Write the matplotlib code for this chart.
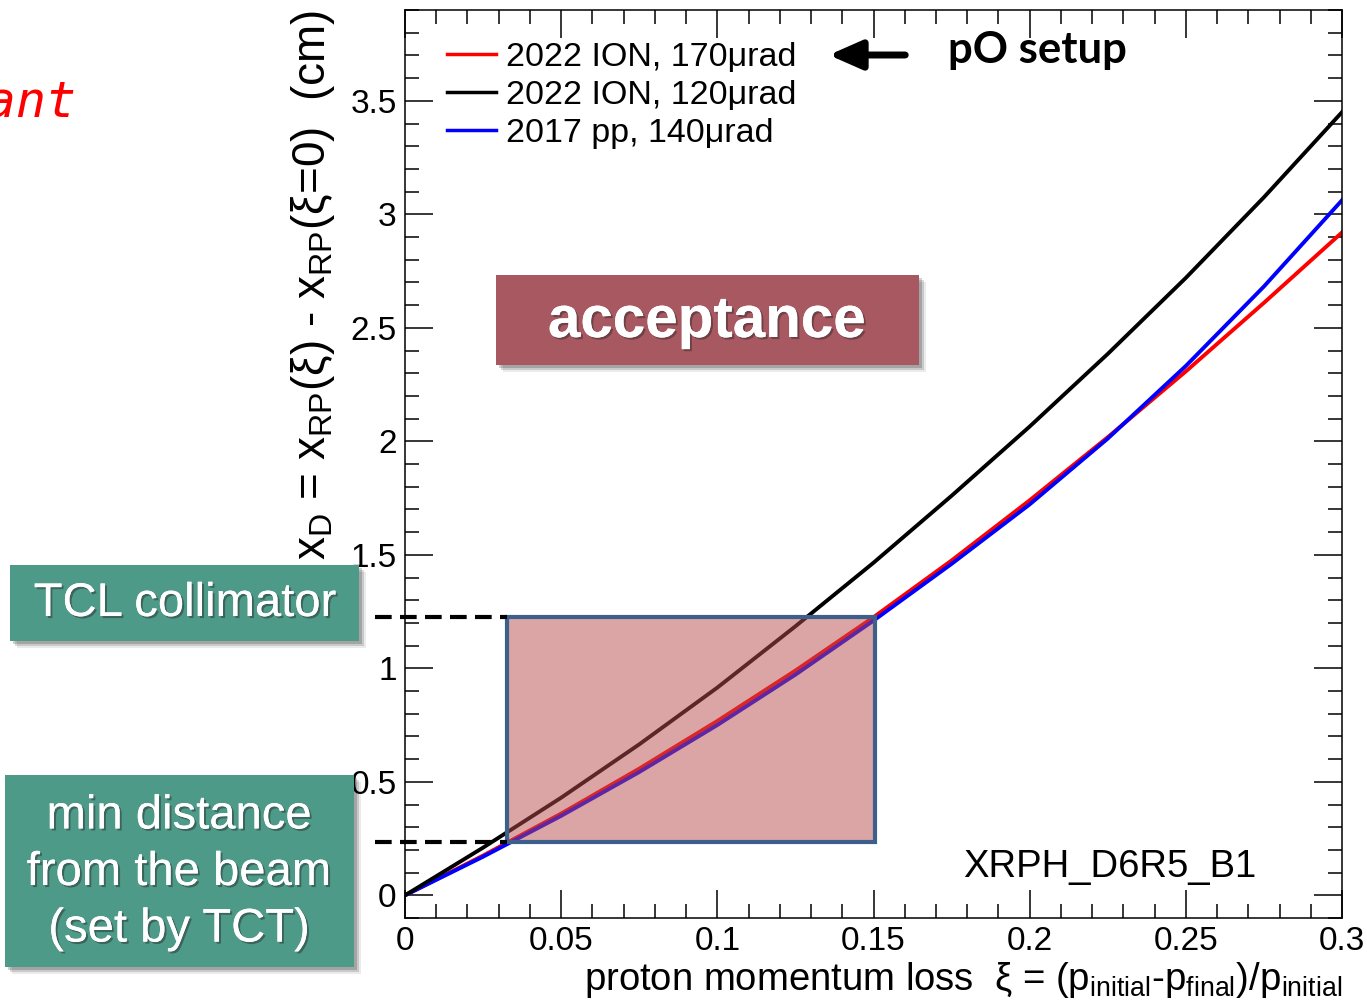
import matplotlib
matplotlib.use("Agg")
import matplotlib.pyplot as plt
import matplotlib.patheffects as pe
from matplotlib.patches import Rectangle, FancyArrowPatch
from matplotlib.ticker import MultipleLocator, FuncFormatter

plt.rcParams['font.family'] = ['Liberation Sans', 'DejaVu Sans']
plt.rcParams['mathtext.fontset'] = 'custom'
plt.rcParams['mathtext.rm'] = 'Liberation Sans'
plt.rcParams['mathtext.it'] = 'Liberation Sans:italic'

# proton momentum loss xi and horizontal displacement x_D (cm) at XRPH_D6R5_B1
xi = [0.0, 0.025, 0.05, 0.075, 0.1, 0.125, 0.15, 0.175, 0.2, 0.225, 0.25, 0.275, 0.3]
xd_ion170 = [0.0, 0.175, 0.36, 0.558, 0.768, 0.99, 1.225, 1.475, 1.74, 2.018, 2.308, 2.61, 2.92]
xd_ion120 = [0.0, 0.21, 0.43, 0.665, 0.915, 1.185, 1.465, 1.76, 2.065, 2.385, 2.72, 3.075, 3.45]
xd_pp140 = [0.0, 0.17, 0.35, 0.543, 0.75, 0.972, 1.21, 1.46, 1.722, 2.012, 2.332, 2.682, 3.062]

labels = ['2022 ION, 170μrad', '2022 ION, 120μrad', '2017 pp, 140μrad']

# acceptance window: min distance (TCT) and TCL collimator limits
xi_lo, xi_hi = 0.0327, 0.1505
xd_lo, xd_hi = 0.233, 1.228

W, H = 1367, 1008


def fx(px):
    return px / W


def fy(py):
    return 1 - py / H


fig = plt.figure(figsize=(W / 100, H / 100), dpi=100)
ax = fig.add_axes([fx(405), fy(918), (1342 - 405) / W, (918 - 10) / H])

l_red, = ax.plot(xi, xd_ion170, color='#ff0000', lw=2.8, zorder=2)
l_blue, = ax.plot(xi, xd_pp140, color='#0000ff', lw=2.8, zorder=2.1)
l_black, = ax.plot(xi, xd_ion120, color='black', lw=2.8, zorder=2.2)

ax.set_xlim(0, 0.3)
ax.set_ylim(-0.1, 3.9)
ax.xaxis.set_major_locator(MultipleLocator(0.05))
ax.xaxis.set_minor_locator(MultipleLocator(0.01))
ax.yaxis.set_major_locator(MultipleLocator(0.5))
ax.yaxis.set_minor_locator(MultipleLocator(0.1))
fmt = FuncFormatter(lambda v, p: '%g' % round(v, 3))
ax.xaxis.set_major_formatter(fmt)
ax.yaxis.set_major_formatter(fmt)
ax.tick_params(which='both', direction='in', top=True, right=True, width=1.1, labelsize=24)
ax.tick_params(which='major', length=20)
ax.tick_params(which='minor', length=10)
ax.tick_params(axis='x', pad=6)
ax.tick_params(axis='y', pad=6)
for s in ax.spines.values():
    s.set_linewidth(1.1)

leg = ax.legend([l_red, l_black, l_blue], labels, loc='upper left',
                bbox_to_anchor=((447 - 405) / 937, (918 - 42) / 908), frameon=False,
                fontsize=24.5, handlelength=1.45, handletextpad=0.28,
                labelspacing=0.2, borderpad=0, borderaxespad=0)
for h in leg.legend_handles:
    h.set_linewidth(2.5)

ax.text(-0.098, 1.0, r'x$_\mathregular{D}$ = x$_\mathregular{RP}$(ξ) - x$_\mathregular{RP}$(ξ=0)  (cm)',
        transform=ax.transAxes, rotation=90, ha='center', va='top', fontsize=33)
ax.text(1.0, -0.079, r'proton momentum loss  ξ = (p$_\mathregular{initial}$-p$_\mathregular{final}$)/p$_\mathregular{initial}$',
        transform=ax.transAxes, ha='right', va='baseline', fontsize=27.5)
ax.text(0.5955, 0.045, 'XRPH_D6R5_B1', transform=ax.transAxes,
        ha='left', va='baseline', fontsize=27.5)

# acceptance window box and dashed limits
ax.add_patch(Rectangle((xi_lo, xd_lo), xi_hi - xi_lo, xd_hi - xd_lo,
                       facecolor=(0.72, 0.30, 0.30, 0.5), edgecolor='#3c5f8c',
                       lw=3, zorder=3))
for lvl in (xd_lo, xd_hi):
    ax.plot([-0.0096, xi_lo], [lvl, lvl], color='black', lw=3,
            ls=(0, (4, 2)), clip_on=False, zorder=3)

txt_shadow = [pe.withSimplePatchShadow(offset=(1.5, -1.5), shadow_rgbFace='0.15', alpha=0.45),
              pe.Normal()]


def slide_box(x0, y0, x1, y1, color):
    # soft drop shadow under the box
    for off, a in ((3, 0.18), (5, 0.14), (7, 0.08)):
        fig.add_artist(Rectangle((fx(x0 + off), fy(y1 + off)), (x1 - x0) / W, (y1 - y0) / H,
                                 transform=fig.transFigure, facecolor='black',
                                 edgecolor='none', alpha=a, zorder=4))
    fig.add_artist(Rectangle((fx(x0), fy(y1)), (x1 - x0) / W, (y1 - y0) / H,
                             transform=fig.transFigure, facecolor=color,
                             edgecolor='none', zorder=5))


slide_box(496, 275, 919, 365, '#a85860')
fig.text(fx(707), fy(322), 'acceptance', color='white', fontsize=42, fontweight='bold',
         ha='center', va='center', zorder=6, path_effects=txt_shadow)

slide_box(10, 565, 359, 641, '#4e9a89')
fig.text(fx(185), fy(604), 'TCL collimator', color='white', fontsize=34,
         ha='center', va='center', zorder=6, path_effects=txt_shadow)

slide_box(5, 775, 354, 967, '#4e9a89')
fig.text(fx(179), fy(873), 'min distance\nfrom the beam\n(set by TCT)', color='white',
         fontsize=34, ha='center', va='center', linespacing=1.37, zorder=6,
         path_effects=txt_shadow)

# pO setup pointer
fig.add_artist(FancyArrowPatch((fx(908), fy(55)), (fx(826), fy(55)),
                               transform=fig.transFigure, arrowstyle='-|>,head_length=0.5,head_width=0.22',
                               mutation_scale=40, lw=5, color='black', zorder=6))
fig.text(fx(948), fy(50), 'pO setup', fontsize=31.5, fontweight='bold', family='Lato',
         ha='left', va='center', zorder=6)

fig.text(fx(77), fy(117), 'important', color='red', fontsize=36, style='italic',
         family='DejaVu Sans Mono', ha='right', va='baseline')

fig.savefig('out.png', dpi=100)
